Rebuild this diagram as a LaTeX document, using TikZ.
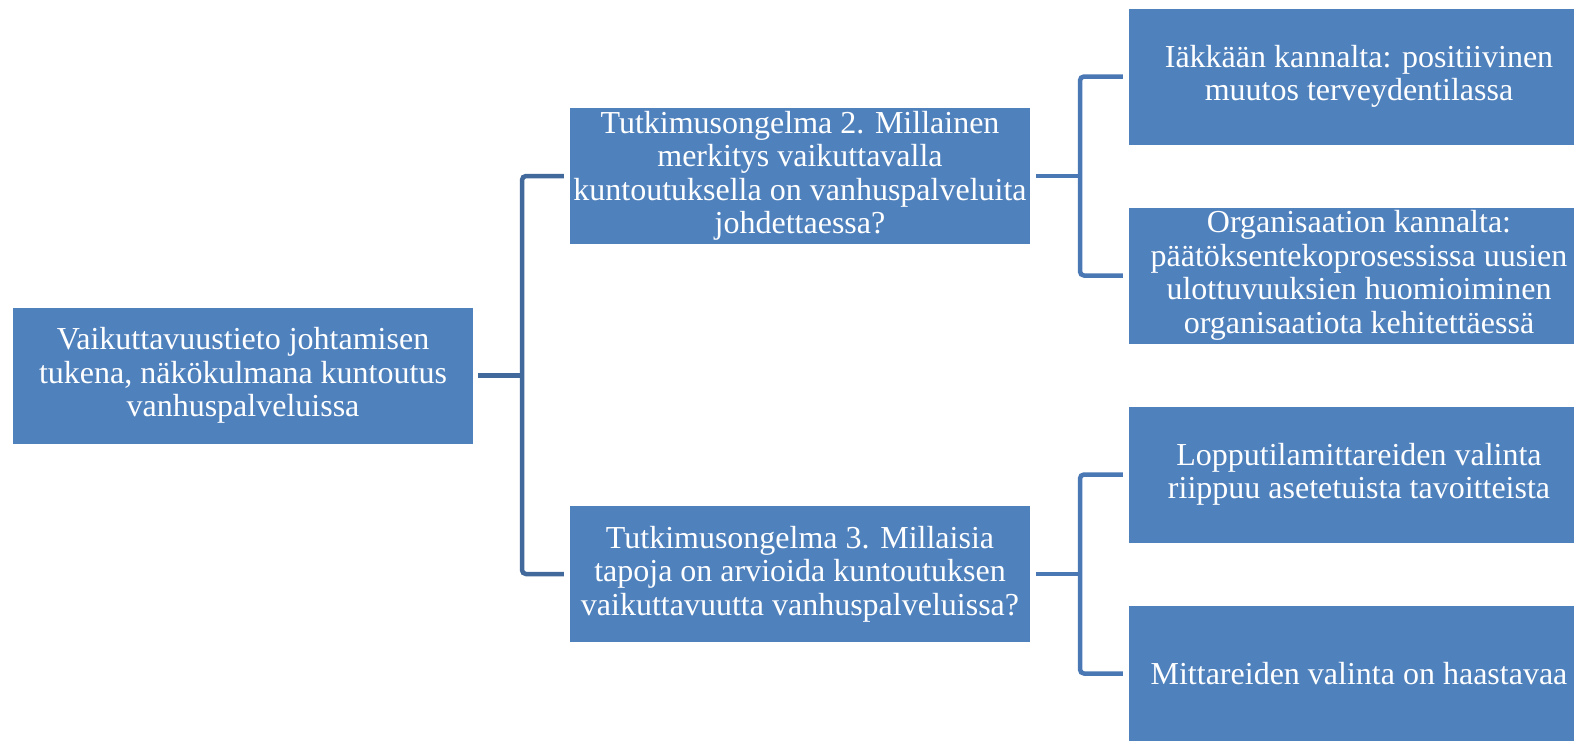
\documentclass[tikz,border=0pt]{standalone}
\usepackage{fontspec}
\setmainfont{Liberation Serif}
\definecolor{boxblue}{HTML}{4F81BD}
\definecolor{linkdark}{HTML}{41699B}
\definecolor{linklight}{HTML}{4A78B5}
\tikzset{
  box/.style={fill=boxblue, text=white, minimum width=460pt, minimum height=136pt,
    inner sep=0pt, align=center, font=\fontsize{32}{33.5}\selectfont},
  link/.style={line width=4.5pt, rounded corners=4pt}
}
\begin{document}
\begin{tikzpicture}[x=1pt,y=-1pt]
\useasboundingbox (0,0) rectangle (1574,740);
\begin{scope}
\clip (0,0) rectangle (1574,740);
\node[box] (root) at (243,375.5) {Vaikuttavuustieto johtamisen\\tukena, näkökulmana kuntoutus\\vanhuspalveluissa};
\node[box] (tutk2) at (800,176) {Tutkimusongelma 2. Millainen\\merkitys vaikuttavalla\\kuntoutuksella on vanhuspalveluita\\johdettaessa?};
\node[box] (tutk3) at (800,574) {Tutkimusongelma 3. Millaisia\\tapoja on arvioida kuntoutuksen\\vaikuttavuutta vanhuspalveluissa?};
\node[box] (iakas) at (1359,76.5) {Iäkkään kannalta: positiivinen\\muutos terveydentilassa};
\node[box] (organ) at (1359,275.5) {Organisaation kannalta:\\päätöksentekoprosessissa uusien\\ulottuvuuksien huomioiminen\\organisaatiota kehitettäessä};
\node[box] (loppu) at (1359,474.5) {Lopputilamittareiden valinta\\riippuu asetetuista tavoitteista};
\node[box] (mitta) at (1359,673.5) {Mittareiden valinta on haastavaa};
\end{scope}
\coordinate (jroot) at (522,375.5);
\coordinate (jtop) at (1080,176);
\coordinate (jbot) at (1080,574);
\draw[link, linkdark] ([xshift=5pt]root.east) -- (jroot);
\draw[link, linkdark] ([xshift=-6pt]tutk2.west) -| (jroot) |- ([xshift=-6pt]tutk3.west);
\draw[link, linklight] ([xshift=6pt]tutk2.east) -- (jtop);
\draw[link, linklight] ([xshift=-6pt]iakas.west) -| (jtop) |- ([xshift=-6pt]organ.west);
\draw[link, linklight] ([xshift=6pt]tutk3.east) -- (jbot);
\draw[link, linklight] ([xshift=-6pt]loppu.west) -| (jbot) |- ([xshift=-6pt]mitta.west);
\end{tikzpicture}
\end{document}
